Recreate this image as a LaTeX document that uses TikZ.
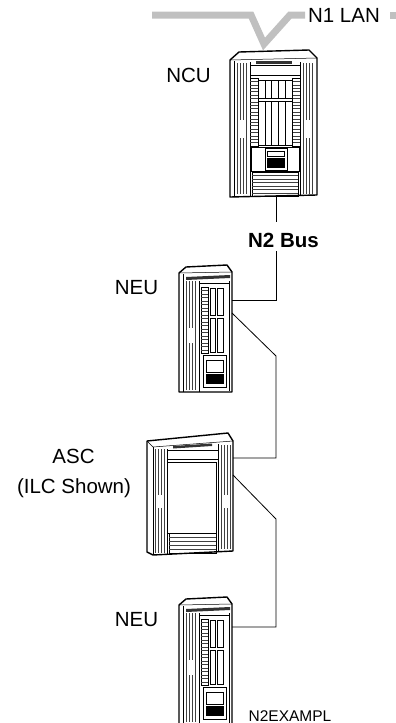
\documentclass[tikz,border=0pt]{standalone}
\usepackage{fontspec}
\setmainfont{Liberation Sans}
\usepackage{tikz}
\definecolor{lanGray}{RGB}{192,192,192}

\begin{document}
\begin{tikzpicture}[x=1pt, y=-1pt,
	lbl/.style={font=\fontsize{20.5}{25}\selectfont, anchor=base},
	wire/.style={line width=0.8pt},
	case/.style={line width=1.4pt, fill=white, line join=round},
	detail/.style={line width=0.5pt},
	rib/.style={line width=0.4pt, black!75}]
	\useasboundingbox (0,0) rectangle (396,723);

	% N1 LAN trunk
	\draw[lanGray, line width=7pt, line join=miter] (152,15) -- (251,15) -- (264,44) -- (290,15) -- (305,15);
	\draw[lanGray, line width=7pt] (390,15) -- (396,15);

	% NCU
	\draw[case] (230,60) -- (239,52) -- (309,50) -- (317,58) -- (317,195) -- (230,197) -- cycle;
	\draw[detail] (230,60) -- (317,58);
	\fill[black!80] (256,60.5) rectangle (292,63.5);
	\draw[detail] (250,65) rectangle (300,75);
	\draw[detail] (234,61) -- (234,196);
	\draw[detail] (250,62) -- (250,196);
	\draw[detail] (300,62) -- (300,195);
	\foreach \x in {237,240,243,246,303,306,309,312}
		\draw[rib] (\x,63) -- (\x,194);
	\fill[white] (238.5,120) rectangle (244.5,138);
	\fill[white] (304.5,120) rectangle (310.5,138);
	\draw[detail] (250,78) rectangle (258,146);
	\draw[detail] (292,78) rectangle (300,146);
	\foreach \y in {81.4,84.8,...,145}
		\draw[rib] (250,\y) -- (258,\y) (292,\y) -- (300,\y);
	\foreach \i in {0,...,4} {
		\draw[detail] ({258+6.8*\i},80) rectangle ({258+6.8*(\i+1)},98);
		\draw[detail] ({258+6.8*\i},101) rectangle ({258+6.8*(\i+1)},145);
	}
	\draw[detail] (251,147) rectangle (299,171);
	\draw[detail] (265,148) rectangle (287,170);
	\draw[detail] (267,151) rectangle (284,156);
	\draw[detail, fill=black] (267,158) rectangle (284,167);
	\draw[detail] (252,172) rectangle (298,196);
	\foreach \y in {175.5,179,...,193}
		\draw[rib] (252,\y) -- (298,\y);

	% NEU (twice)
	\foreach \dy in {0,332} {
	\begin{scope}[shift={(0,\dy)}]
		\draw[case] (179,273) -- (186,267) -- (227,265) -- (232,272) -- (232,392) -- (179,392) -- cycle;
		\draw[detail] (179,273) -- (232,272);
		\fill[black!80] (186,277) -- (230,275) -- (230,278) -- (186,280) -- cycle;
		\draw[detail] (183,274) -- (183,392);
		\foreach \x in {186,189,192,195}
			\draw[rib] (\x,281) -- (\x,390);
		\fill[white] (188,328) rectangle (194,343);
		\draw[detail] (199,281) -- (199,392);
		\draw[detail] (229,281) -- (229,391);
		\draw[detail] (199,283) -- (229,283);
		\draw[detail] (201,287) rectangle (208,353);
		\foreach \y in {290.5,294,...,351}
			\draw[rib] (201,\y) -- (208,\y);
		\draw[detail] (210,288) rectangle (215,315);
		\draw[detail] (217,288) rectangle (223,315);
		\draw[detail] (210,318) rectangle (215,352);
		\draw[detail] (217,318) rectangle (223,352);
		\draw[detail] (203,355) rectangle (226,387);
		\draw[detail] (206,360) rectangle (223,372);
		\draw[detail, fill=black] (206,374) rectangle (223,383);
	\end{scope}
	}

	% ASC
	\draw[case] (147,441) -- (228,433) -- (233,441) -- (233,551) -- (153,555) -- (147,552) -- cycle;
	\draw[detail] (147,441) -- (153,447) -- (233,441);
	\draw[detail] (153,447) -- (153,555);
	\fill[black!80] (173,446) -- (212,443.5) -- (212,446) -- (173,448.5) -- cycle;
	\foreach \x in {155.5,158.5,161.5,164.5}
		\draw[rib] (\x,449) -- (\x,553);
	\foreach \x in {221,224,227,230}
		\draw[rib] (\x,445) -- (\x,549);
	\fill[white] (157,495) rectangle (163,508);
	\fill[white] (222.5,495) rectangle (228.5,508);
	\draw[detail] (167,449) -- (167,554);
	\draw[detail] (218,444) -- (218,551);
	\draw[detail] (167,450) rectangle (218,459);
	\draw[detail] (167,462) rectangle (216,533);
	\draw[detail] (169,533) rectangle (216,553);
	\foreach \y in {537,541,545,549}
		\draw[rib] (169,\y) -- (216,\y);

	% labels
	\node[lbl] (lanLbl) at (344,22) {N1 LAN};
	\node[lbl] (ncuLbl) at (188.5,82) {NCU};
	\node[lbl, font=\fontsize{20.5}{25}\selectfont\bfseries] (busLbl) at (283.5,247) {N2 Bus};
	\node[lbl] (neuLblA) at (136.5,294) {NEU};
	\node[lbl] (ascLbl) at (73.5,463) {ASC};
	\node[lbl] (ascNote) at (74,493) {(ILC Shown)};
	\node[lbl] (neuLblB) at (136.5,626) {NEU};
	\node[lbl, font=\fontsize{15.5}{18}\selectfont] (figLbl) at (290,721) {N2EXAMPL};

	% N2 bus points
	\coordinate (ncuOut) at (276,197);
	\coordinate (busTop) at (276,222);
	\coordinate (busBot) at (276,251);
	\coordinate (neuAin) at (232,300);
	\coordinate (neuAout) at (232,313);
	\coordinate (bendA) at (276,356);
	\coordinate (ascIn) at (233,458);
	\coordinate (ascOut) at (233,475);
	\coordinate (bendB) at (276,519);
	\coordinate (neuBin) at (232,627);

	% N2 bus
	\draw[wire] (ncuOut) -- (busTop);
	\draw[wire] (busBot) |- (neuAin);
	\draw[wire] (neuAout) -- (bendA) |- (ascIn);
	\draw[wire] (ascOut) -- (bendB) |- (neuBin);
\end{tikzpicture}
\end{document}
